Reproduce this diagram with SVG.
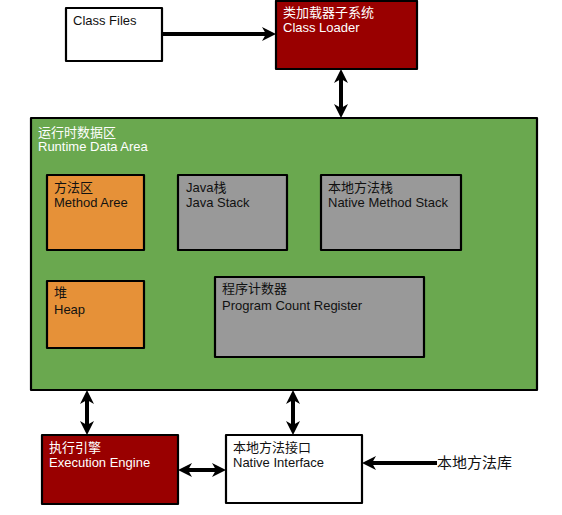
<svg xmlns="http://www.w3.org/2000/svg" width="562" height="515" viewBox="0 0 562 515">
<defs>
<marker id="ah" viewBox="0 0 14 14" refX="10" refY="7" markerWidth="14" markerHeight="14" markerUnits="userSpaceOnUse" orient="auto-start-reverse">
<path d="M0,0 L14,7 L0,14 L4,7 Z" fill="#000"/>
</marker>
</defs>
<style>
.box{stroke:#000;stroke-width:2.2;stroke-linejoin:round}
.t{font-family:"Liberation Sans","Noto Sans CJK SC",sans-serif;font-size:13px;fill:#111}
.w{fill:#fff}
.conn line{stroke:#000;stroke-width:4}
</style>
<rect width="562" height="515" fill="#fff"/>
<g id="classfiles">
<rect class="box" x="66" y="8" width="96" height="53" fill="#fff"/>
<text class="t" x="73" y="25">Class Files</text>
</g>
<g id="classloader">
<rect class="box" x="276" y="1" width="141" height="68" fill="#990000"/>
<text class="t w" x="283" y="17">类加载器子系统</text>
<text class="t w" x="283" y="32">Class Loader</text>
</g>
<g id="runtime">
<rect class="box" x="31" y="118" width="506" height="272" fill="#6aa84f"/>
<text class="t w" x="38" y="137">运行时数据区</text>
<text class="t w" x="38" y="151">Runtime Data Area</text>
</g>
<g id="method">
<rect class="box" x="47" y="175" width="97" height="75" fill="#e69138"/>
<text class="t" x="54" y="192">方法区</text>
<text class="t" x="54" y="207">Method Aree</text>
</g>
<g id="javastack">
<rect class="box" x="178" y="175" width="109" height="75" fill="#999999"/>
<text class="t" x="186" y="192">Java栈</text>
<text class="t" x="186" y="207">Java Stack</text>
</g>
<g id="nativestack">
<rect class="box" x="321" y="175" width="140" height="75" fill="#999999"/>
<text class="t" x="328" y="192">本地方法栈</text>
<text class="t" x="328" y="207">Native Method Stack</text>
</g>
<g id="heap">
<rect class="box" x="47" y="281" width="97" height="67" fill="#e69138"/>
<text class="t" x="54" y="297">堆</text>
<text class="t" x="54" y="314">Heap</text>
</g>
<g id="pcr">
<rect class="box" x="215" y="277" width="209" height="80" fill="#999999"/>
<text class="t" x="222" y="293">程序计数器</text>
<text class="t" x="222" y="310">Program Count Register</text>
</g>
<g id="engine">
<rect class="box" x="42" y="435" width="136" height="69" fill="#990000"/>
<text class="t w" x="49" y="452">执行引擎</text>
<text class="t w" x="49" y="467">Execution Engine</text>
</g>
<g id="nativeif">
<rect class="box" x="226" y="435" width="136" height="68" fill="#fff"/>
<text class="t" x="233" y="452">本地方法接口</text>
<text class="t" x="233" y="467">Native Interface</text>
</g>
<g id="nativelib">
<text class="t" x="437" y="468" style="font-size:15px">本地方法库</text>
</g>
<g class="conn" id="connectors">
<line x1="162" y1="34" x2="272" y2="34" marker-end="url(#ah)"/>
<line x1="341" y1="73" x2="341" y2="114" marker-start="url(#ah)" marker-end="url(#ah)"/>
<line x1="87" y1="394" x2="87" y2="431" marker-start="url(#ah)" marker-end="url(#ah)"/>
<line x1="293" y1="394" x2="293" y2="431" marker-start="url(#ah)" marker-end="url(#ah)"/>
<line x1="182" y1="470" x2="222" y2="470" marker-start="url(#ah)" marker-end="url(#ah)"/>
<line x1="437" y1="463" x2="366" y2="463" marker-end="url(#ah)"/>
</g>
</svg>
